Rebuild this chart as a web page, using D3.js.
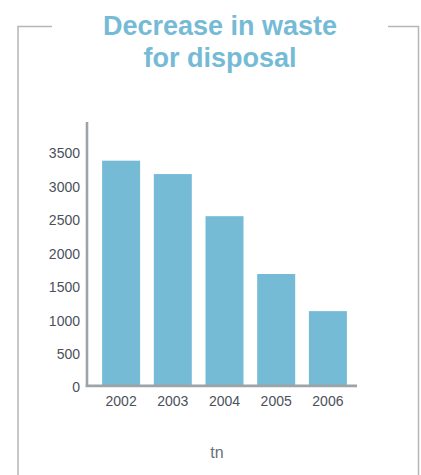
<!DOCTYPE html>
<html>
<head>
<meta charset="utf-8">
<script src="https://cdn.jsdelivr.net/npm/d3@7"></script>
<style>
  html, body { margin: 0; padding: 0; background: #fff; }
  svg { display: block; font-family: "Liberation Sans", Arial, Helvetica, sans-serif; }
</style>
</head>
<body>
<svg id="chart" width="421" height="475"></svg>
<script>
// Waste sent for disposal, tonnes per year
const years = ["2002", "2003", "2004", "2005", "2006"];
const waste = [3370, 3170, 2540, 1675, 1120];
const yTicks = [0, 500, 1000, 1500, 2000, 2500, 3000, 3500];
const titleLines = ["Decrease in waste", "for disposal"];
const unitLabel = "tn";

const svg = d3.select("#chart");
const blue = "#75bbd6";
const frameGrey = "#b3b7bb";
const axisGrey = "#9ea3a8";
const textGrey = "#4b515b";

// Open frame around the panel
const frame = svg.append("g")
  .attr("fill", "none")
  .attr("stroke", frameGrey)
  .attr("stroke-width", 1.5);
frame.append("path").attr("d", "M52,26.5 H18 V475");
frame.append("path").attr("d", "M388,26.5 H418.5 V475");

// Title
svg.append("g")
  .selectAll("text")
  .data(titleLines)
  .join("text")
  .attr("x", 220)
  .attr("y", (d, i) => 35 + i * 32)
  .attr("text-anchor", "middle")
  .attr("font-size", 27)
  .attr("font-weight", "bold")
  .attr("fill", blue)
  .text(d => d);

// Scales
const x = d3.scaleBand()
  .domain(years)
  .range([92.5, 356.5])
  .paddingInner(0.265)
  .paddingOuter(0.186);

const y = d3.scaleLinear()
  .domain([0, 3500])
  .range([386, 152]);

// Bars
svg.append("g")
  .selectAll("rect")
  .data(years.map((yr, i) => ({ yr, v: waste[i] })))
  .join("rect")
  .attr("x", d => x(d.yr))
  .attr("width", x.bandwidth())
  .attr("y", d => y(d.v))
  .attr("height", d => y(0) - y(d.v))
  .attr("fill", blue);

// Y axis labels
const yAxis = svg.append("g")
  .attr("transform", "translate(87,1.5)")
  .call(d3.axisLeft(y).tickValues(yTicks).tickSize(0).tickPadding(7).tickFormat(d3.format("d")));
yAxis.select(".domain").remove();
yAxis.selectAll("text")
  .attr("font-size", 14)
  .attr("font-family", "Liberation Sans, Arial, sans-serif")
  .attr("fill", textGrey);

// X axis labels
const xAxis = svg.append("g")
  .attr("transform", "translate(0,386)")
  .call(d3.axisBottom(x).tickSize(0).tickPadding(10));
xAxis.select(".domain").remove();
xAxis.selectAll("text")
  .attr("font-size", 14)
  .attr("font-family", "Liberation Sans, Arial, sans-serif")
  .attr("fill", textGrey);

// Axis lines
svg.append("line")
  .attr("x1", 87).attr("x2", 87)
  .attr("y1", 122).attr("y2", 387)
  .attr("stroke", axisGrey).attr("stroke-width", 2.6);
svg.append("line")
  .attr("x1", 85.7).attr("x2", 357)
  .attr("y1", 385.8).attr("y2", 385.8)
  .attr("stroke", axisGrey).attr("stroke-width", 2.8);

// Unit label
svg.append("text")
  .attr("x", 217)
  .attr("y", 458)
  .attr("text-anchor", "middle")
  .attr("font-size", 16)
  .attr("fill", "#6a7078")
  .text(unitLabel);
</script>
</body>
</html>
